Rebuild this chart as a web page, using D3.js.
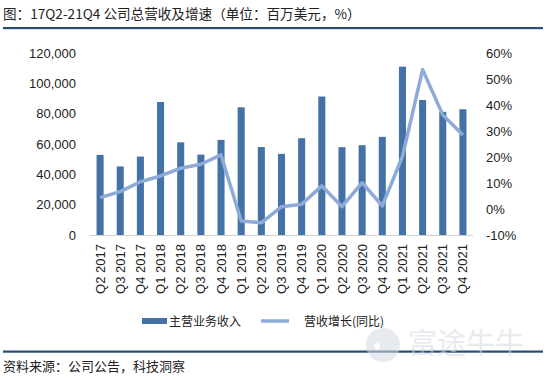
<!DOCTYPE html>
<html>
<head>
<meta charset="utf-8">
<script src="https://cdn.jsdelivr.net/npm/d3@7"></script>
<style>
  body { margin: 0; background: #fff; }
  svg { display: block; font-family: "Liberation Sans", Arial, sans-serif; }
  .cjk { font-family: "Noto Sans CJK SC", sans-serif; }
</style>
</head>
<body>
<div id="chart"></div>
<script>
// data
const quarters = ["Q2 2017", "Q3 2017", "Q4 2017", "Q1 2018", "Q2 2018", "Q3 2018", "Q4 2018",
    "Q1 2019", "Q2 2019", "Q3 2019", "Q4 2019", "Q1 2020", "Q2 2020", "Q3 2020", "Q4 2020",
    "Q1 2021", "Q2 2021", "Q3 2021", "Q4 2021"];
const revenue = [52800, 45200, 51700, 87700, 61100, 53000, 62700, 84200, 58000, 53500, 63800,
    91300, 57900, 59200, 64700, 111000, 89000, 81200, 82900];
const growth = [4.4, 6.7, 10.5, 12.7, 15.7, 17.2, 20.8, -4.6, -5.3, 0.9, 1.8, 8.9, 0.9, 10.1,
    1.2, 20.2, 53.6, 36.2, 28.5];
const leftTicks = [0, 20000, 40000, 60000, 80000, 100000, 120000];
const rightTicks = [-10, 0, 10, 20, 30, 40, 50, 60];

const width = 546, height = 380;
const plot = {left: 90, right: 473, top: 53, bottom: 235};

const svg = d3.select("#chart")
    .append("svg")
    .attr("width", width)
    .attr("height", height);

// title + rules
svg.append("text")
    .attr("class", "cjk")
    .attr("x", 3).attr("y", 19)
    .style("font-size", "13.6px")
    .style("fill", "#222")
    .text("图：17Q2-21Q4 公司总营收及增速（单位：百万美元，%）");

svg.append("rect").attr("x", 3).attr("y", 27).attr("width", 540).attr("height", 2.2).attr("fill", "#2c4a7c");
svg.append("rect").attr("x", 3).attr("y", 350.5).attr("width", 540).attr("height", 2.2).attr("fill", "#2c4a7c");

// scales
const x = d3.scaleBand()
    .domain(quarters)
    .range([plot.left, plot.right])
    .paddingInner(0.65)
    .paddingOuter(0.325);

const yL = d3.scaleLinear().domain([0, 120000]).range([plot.bottom, plot.top]);
const yR = d3.scaleLinear().domain([-10, 60]).range([plot.bottom, plot.top]);

// left axis
const axL = svg.append("g")
    .attr("transform", `translate(${plot.left - 12},0)`)
    .call(d3.axisLeft(yL).tickValues(leftTicks).tickSize(0).tickPadding(2)
        .tickFormat(d3.format(",")));
axL.select(".domain").remove();
axL.selectAll("text").style("font-size", "13px").style("fill", "#222")
    .style("font-family", "'Liberation Sans', Arial, sans-serif");

// right axis
const axR = svg.append("g")
    .attr("transform", `translate(${plot.right + 11},0)`)
    .call(d3.axisRight(yR).tickValues(rightTicks).tickSize(0).tickPadding(2)
        .tickFormat(d => d + "%"));
axR.select(".domain").remove();
axR.selectAll("text").style("font-size", "13px").style("fill", "#222")
    .style("font-family", "'Liberation Sans', Arial, sans-serif");

// bars
svg.selectAll("rect.bar")
    .data(quarters)
    .join("rect")
    .attr("class", "bar")
    .attr("x", d => x(d))
    .attr("width", x.bandwidth())
    .attr("y", (d, i) => yL(revenue[i]))
    .attr("height", (d, i) => yL(0) - yL(revenue[i]))
    .attr("fill", "#4472a7");

// baseline
svg.append("line")
    .attr("x1", plot.left).attr("x2", plot.right)
    .attr("y1", plot.bottom + 0.5).attr("y2", plot.bottom + 0.5)
    .attr("stroke", "#d0d0d0").attr("stroke-width", 1);

// growth line
const line = d3.line()
    .x((d, i) => x(quarters[i]) + x.bandwidth() / 2)
    .y(d => yR(d));

svg.append("path")
    .datum(growth)
    .attr("d", line)
    .attr("fill", "none")
    .attr("stroke", "#8eaad8")
    .attr("stroke-width", 3.5)
    .attr("stroke-linejoin", "round");

// x labels, rotated
const axX = svg.append("g")
    .attr("transform", `translate(0,${plot.bottom})`)
    .call(d3.axisBottom(x).tickSize(0).tickPadding(0));
axX.select(".domain").remove();
axX.selectAll("text")
    .attr("transform", "rotate(-90)")
    .attr("x", -9).attr("y", 0).attr("dy", "0.35em")
    .style("text-anchor", "end")
    .style("font-size", "13px")
    .style("fill", "#222")
    .style("font-family", "'Liberation Sans', Arial, sans-serif");

// legend
const lg = svg.append("g").attr("class", "cjk").style("font-size", "12px").style("fill", "#222");
lg.append("rect").attr("x", 142).attr("y", 318).attr("width", 25).attr("height", 6).attr("fill", "#4472a7");
lg.append("text").attr("x", 169).attr("y", 325.5).text("主营业务收入");
lg.append("line").attr("x1", 261).attr("x2", 289).attr("y1", 321).attr("y2", 321)
    .attr("stroke", "#8eaad8").attr("stroke-width", 3.5);
lg.append("text").attr("x", 304).attr("y", 325.5).text("营收增长(同比)");

// watermark
const wm = svg.append("g").attr("opacity", 0.55);
wm.append("circle").attr("cx", 383).attr("cy", 345).attr("r", 17).attr("fill", "#d4dbe2");
wm.append("circle").attr("cx", 377).attr("cy", 346).attr("r", 3).attr("fill", "#fff");
wm.append("text").attr("class", "cjk")
    .attr("x", 408).attr("y", 354)
    .style("font-size", "29px")
    .style("fill", "#d4dbe2")
    .text("富途牛牛");

// source
svg.append("text")
    .attr("class", "cjk")
    .attr("x", 3).attr("y", 371)
    .style("font-size", "13px")
    .style("fill", "#222")
    .text("资料来源：公司公告，科技洞察");
</script>
</body>
</html>
